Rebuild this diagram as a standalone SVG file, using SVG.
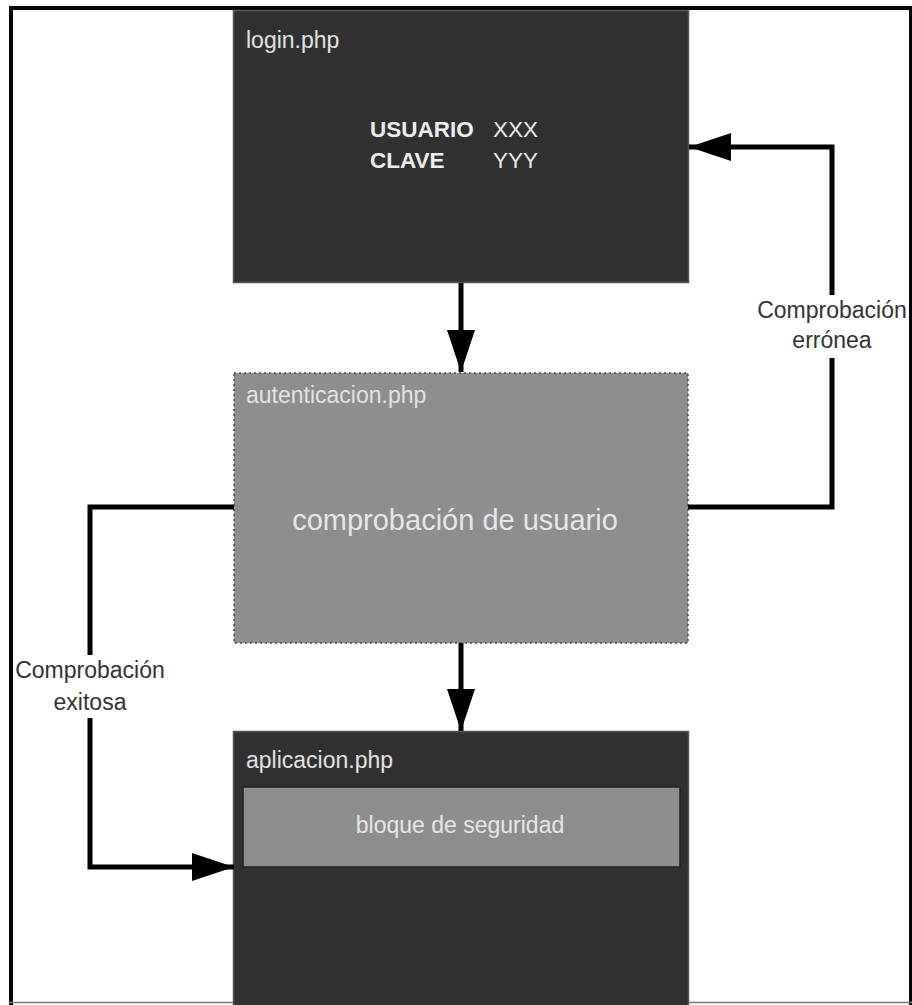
<svg xmlns="http://www.w3.org/2000/svg" width="912" height="1005" viewBox="0 0 912 1005">
  <style>
    .dark { fill: #313131; stroke: #555555; stroke-width: 1.5; }
    .mid { fill: #8e8e8e; }
    .title { font-family: "Liberation Sans", Arial, sans-serif; font-size: 23px; fill: #e2e2e2; }
    .inner { font-family: "Liberation Sans", Arial, sans-serif; fill: #e6e6e6; text-anchor: middle; }
    .field { font-family: "Liberation Sans", Arial, sans-serif; font-size: 22.5px; fill: #ededed; }
    .lbl { font-family: "Liberation Sans", Arial, sans-serif; font-size: 23px; fill: #333333; text-anchor: middle; }
    .wire { fill: none; stroke: #000000; stroke-width: 5; stroke-linejoin: miter; }
  </style>
  <defs>
    <marker id="head" viewBox="0 0 42 28" refX="42" refY="14" markerWidth="42" markerHeight="28" markerUnits="userSpaceOnUse" orient="auto">
      <path d="M0,0 L42,14 L0,28 Z" fill="#000000"/>
    </marker>
  </defs>

  <!-- page background and frame -->
  <rect x="0" y="0" width="912" height="1005" fill="#ffffff"/>
  <g id="frame">
    <line x1="9" y1="8" x2="912" y2="8" stroke="#000000" stroke-width="4"/>
    <line x1="11" y1="6" x2="11" y2="1005" stroke="#000000" stroke-width="4"/>
    <line x1="910.5" y1="6" x2="910.5" y2="1005" stroke="#000000" stroke-width="3"/>
    <line x1="9" y1="1002.5" x2="912" y2="1002.5" stroke="#777777" stroke-width="1.5"/>
  </g>

  <!-- login screen -->
  <g id="login">
    <rect class="dark" x="233.5" y="10.5" width="455" height="272"/>
    <text class="title" x="246" y="48">login.php</text>
    <text class="field" x="370" y="137" font-weight="bold">USUARIO</text>
    <text class="field" x="370" y="168" font-weight="bold">CLAVE</text>
    <text class="field" x="493" y="137">XXX</text>
    <text class="field" x="493" y="168">YYY</text>
  </g>

  <!-- authentication step -->
  <g id="autenticacion">
    <rect class="mid" x="234" y="373" width="454" height="270" stroke="#4a4a4a" stroke-width="1.5" stroke-dasharray="2 3"/>
    <text class="title" x="246" y="403">autenticacion.php</text>
    <text class="inner" x="455" y="530" font-size="29">comprobación de usuario</text>
  </g>

  <!-- application page -->
  <g id="aplicacion">
    <rect class="dark" x="233.5" y="731.5" width="455" height="280"/>
    <text class="title" x="246" y="768">aplicacion.php</text>
    <g id="bloque">
      <rect class="mid" x="243" y="787" width="437" height="80" stroke="#222222" stroke-width="1.5"/>
      <text class="inner" x="460" y="833" font-size="23">bloque de seguridad</text>
    </g>
  </g>

  <!-- connectors -->
  <g id="connectors">
    <line class="wire" x1="461" y1="283" x2="461" y2="372" marker-end="url(#head)"/>
    <line class="wire" x1="461" y1="643" x2="461" y2="731" marker-end="url(#head)"/>
    <!-- failed check returns to login -->
    <polyline class="wire" points="688,507 832,507 832,358"/>
    <polyline class="wire" points="832,295 832,147 689,147" marker-end="url(#head)"/>
    <!-- successful check continues to the application -->
    <polyline class="wire" points="234,507 90,507 90,655"/>
    <polyline class="wire" points="90,718 90,867 234,867" marker-end="url(#head)"/>
    <text class="lbl" x="832" y="318">Comprobación</text>
    <text class="lbl" x="832" y="348">errónea</text>
    <text class="lbl" x="90" y="678">Comprobación</text>
    <text class="lbl" x="90" y="710">exitosa</text>
  </g>
</svg>
